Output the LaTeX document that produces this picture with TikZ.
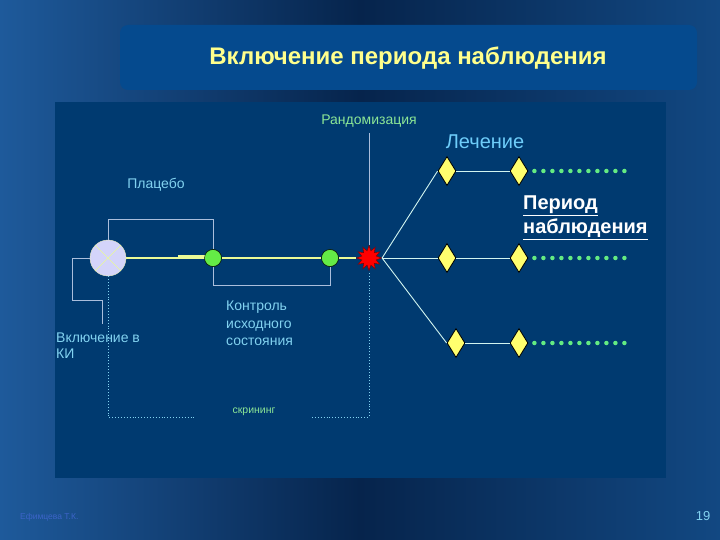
\documentclass[tikz,border=0pt]{standalone}
\usepackage{fontspec}
\setmainfont{Liberation Sans}
\usetikzlibrary{positioning,shapes.geometric}
\definecolor{bgdark}{RGB}{6,36,76}
\definecolor{bgleft}{RGB}{30,90,155}
\definecolor{bgright}{RGB}{18,72,130}
\definecolor{panel}{RGB}{0,58,112}
\definecolor{titlebox}{RGB}{5,74,142}
\definecolor{titletext}{RGB}{255,255,140}
\definecolor{cyantext}{RGB}{130,210,240}
\definecolor{greentext}{RGB}{140,230,150}
\definecolor{wire}{RGB}{170,190,220}
\definecolor{ywire}{RGB}{235,250,150}
\definecolor{dotgreen}{RGB}{100,235,130}
\definecolor{ballgreen}{RGB}{100,235,70}
\definecolor{diafill}{RGB}{255,255,110}
\tikzset{main node/.style={circle,draw=black,fill=ballgreen,minimum width=17pt,minimum height=17pt,inner sep=0pt},
  dia node/.style={diamond,draw=black,thick,fill=diafill,minimum width=18pt,minimum height=29pt,inner sep=0pt},
  lbl/.style={text=cyantext,font=\fontsize{14}{17.5}\selectfont,align=left,inner sep=0pt},
  bracket/.style={draw=wire,line width=0.9pt},
  screen/.style={draw=cyantext,line width=0.9pt,dotted},
  ray/.style={draw={rgb,255:red,210;green,245;blue,240},line width=0.9pt},
  follow/.style={draw=dotgreen,line width=4.5pt,line cap=round,dash pattern=on 0pt off 9pt}}

\begin{document}
\begin{tikzpicture}[x=1pt,y=-1pt]
\useasboundingbox (0,0) rectangle (720,540);
\shade[left color=bgleft,right color=bgright,middle color=bgdark] (0,0) rectangle (720,540);
\fill[titlebox,rounded corners=8pt] (120,25) rectangle (697,90);
\fill[panel] (55,102) rectangle (666,478);
\node[text=titletext,font=\bfseries\fontsize{24}{28}\selectfont] (title) at (408,58) {Включение периода наблюдения};
\begin{scope}[on grid]

  % main line
  \node[circle,draw={rgb,255:red,235;green,235;blue,190},fill={rgb,255:red,212;green,212;blue,250},minimum size=36pt,inner sep=0pt] (incl) at (108,258) {};
  \node[main node] (g1) [right =105pt of incl] {};
  \node[main node] (g2) [right =117pt of g1] {};
  \node[star,star points=12,star point ratio=1.7,minimum size=25pt,inner sep=0pt,draw={rgb,255:red,120;green,0;blue,0},fill=red] (star) [right =39pt of g2] {};

  % arms
  \node[dia node] (d11) [above right = 87pt and 78pt of star] {};
  \node[dia node] (d12) [right =72pt of d11] {};
  \node[dia node] (d21) [right =78pt of star] {};
  \node[dia node] (d22) [right =72pt of d21] {};
  \node[dia node] (d31) [below right = 85pt and 87pt of star] {};
  \node[dia node] (d32) [right =63pt of d31] {};

  % labels
  \node[text=greentext,font=\fontsize{14}{16}\selectfont,inner sep=0pt] (rand) at (369,121) {Рандомизация};
  \node[text={rgb,255:red,110;green,205;blue,250},font=\fontsize{20}{24}\selectfont,inner sep=0pt] (treat) at (485,142) {Лечение};
  \node[lbl] (plac) at (156,185) {Плацебо};
  \node[text=white,font=\bfseries\fontsize{20}{24}\selectfont,align=left,inner sep=0pt,anchor=north west] (follow) at (523,196) {\underline{Период}\\\underline{наблюдения}};
  \node[lbl,anchor=north west,font=\fontsize{14}{16}\selectfont] (ki) at (56,333) {Включение в\\КИ};
  \node[lbl,anchor=north west] (base) at (226,301) {Контроль\\исходного\\состояния};
  \node[text=greentext,font=\fontsize{10.5}{12}\selectfont,inner sep=0pt] (scr) at (254,412) {скрининг};
  \coordinate (scrL) at (195,417);
  \coordinate (scrR) at (312,417);
  \coordinate (kiend) at (102,324);
\end{scope}

  \path[draw=ywire,line width=2.2pt]
    (incl) edge [-] (g1)
    (g1) edge [-] (g2)
    (g2) edge [-] (star);
  \draw[ywire,line width=4pt] (178,257) -- (205,257);
  \node[main node] at (g1) {};
  \node[main node] at (g2) {};
  \draw[ywire,line width=0.5pt] (incl.45) -- (incl.225) (incl.135) -- (incl.315);

  \path[ray]
    (star.east) edge [-] (d11.west)
    (star.east) edge [-] (d21.west)
    (star.east) edge [-] (d31.west)
    (d11) edge [-] (d12)
    (d21) edge [-] (d22)
    (d31) edge [-] (d32);

  \draw[bracket] (incl.north) -- ++(0,-20) -| (g1.north);
  \draw[bracket] (g1.south) -- ++(0,19) -| (g2.south);
  \draw[bracket] (incl.west) -| (72,300) -| (kiend);
  \draw[bracket] (rand.south)++(0,6) -- (star.north);
  \draw[screen] (incl.south) |- (scrL);
  \draw[screen] (scrR) -| (star.south);

  \draw[follow] ([xshift=6pt]d12.east) -- ++(90,0);
  \draw[follow] ([xshift=6pt]d22.east) -- ++(90,0);
  \draw[follow] ([xshift=6pt]d32.east) -- ++(90,0);

  \node[text={rgb,255:red,60;green,100;blue,200},font=\fontsize{8.5}{10}\selectfont,anchor=west,inner sep=0pt] (auth) at (20,517) {Ефимцева Т.К.};
  \node[text=cyantext,font=\fontsize{13}{15}\selectfont,inner sep=0pt] (page) at (703,516) {19};
\end{tikzpicture}
\end{document}
